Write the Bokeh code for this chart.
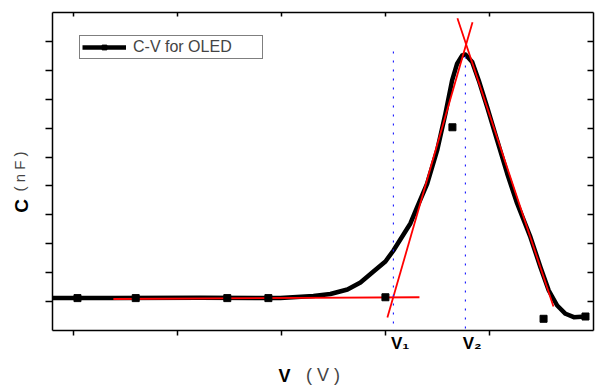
from bokeh.plotting import figure
from bokeh.models import LinearAxis, FixedTicker, Range1d, CustomJSTickFormatter
from bokeh.embed import file_html
from bokeh.resources import INLINE

# ---- data ----
curve_v = [0.798, 1.385, 2.221, 2.990, 3.308, 3.471, 3.635, 3.760, 3.885, 4.000,
           4.077, 4.240, 4.305, 4.401, 4.497, 4.577, 4.641, 4.689, 4.738, 4.769,
           4.834, 4.897, 4.978, 5.074, 5.170, 5.266, 5.394, 5.490, 5.570, 5.651,
           5.731, 5.811, 5.923]
curve_c = [1.125, 1.125, 1.131, 1.121, 1.194, 1.263, 1.419, 1.661, 2.042, 2.388,
           2.768, 3.702, 4.266, 5.076, 6.228, 7.509, 8.651, 9.228, 9.516, 9.550,
           9.284, 8.651, 7.727, 6.574, 5.433, 4.394, 3.228, 2.190, 1.384, 0.865,
           0.578, 0.460, 0.484]

point_v = [1.04, 1.60, 2.48, 2.875, 4.00, 4.644, 5.52, 5.923]
point_c = [1.12, 1.12, 1.12, 1.12, 1.15, 7.03, 0.405, 0.484]

base_v = [1.385, 4.327]
base_c = [1.09, 1.15]
rise_v = [4.019, 4.837]
rise_c = [0.45, 10.66]
fall_v = [4.692, 5.615]
fall_c = [10.80, 0.83]

v1 = 4.077
v2 = 4.769
v1_span = [0.24, 9.76]
v2_span = [0.07, 9.58]

x_ticks = [1, 2, 3, 4, 5]
y_ticks = [1, 2, 3, 4, 5, 6, 7, 8, 9, 10]

v_labels = ["V\u2081", "V\u2082"]
x_title_bold = "V"
x_title_unit = "( V )"
y_title_bold = "C"
y_title_unit = "( n F )"

FONT = "Liberation Sans"

p = figure(width=596, height=389, output_backend="svg", toolbar_location=None,
           x_range=Range1d(0.8, 6.0), y_range=Range1d(0, 11),
           min_border_left=52, min_border_right=3, min_border_top=12,
           min_border_bottom=59)
p.background_fill_color = "white"
p.border_fill_color = "white"
p.outline_line_color = None
p.grid.visible = False

empty_fmt = CustomJSTickFormatter(code="return ''")

bottom = p.xaxis[0]
left = p.yaxis[0]
bottom.ticker = FixedTicker(ticks=x_ticks)
left.ticker = FixedTicker(ticks=y_ticks)
top = LinearAxis(ticker=FixedTicker(ticks=x_ticks))
right = LinearAxis(ticker=FixedTicker(ticks=y_ticks))
p.add_layout(top, "above")
p.add_layout(right, "right")

for ax, tin, tout in [(bottom, 0, 5), (left, 0, 7), (top, 4, 0), (right, 6, 0)]:
    ax.major_tick_in = tin
    ax.major_tick_out = tout
    ax.minor_tick_line_color = None
    ax.axis_line_width = 1.5
    ax.major_tick_line_width = 1.5
    ax.axis_line_color = "black"
    ax.major_tick_line_color = "black"
    ax.formatter = empty_fmt
    ax.major_label_text_font_size = "1px"
    ax.major_label_standoff = 0


def text_axis(ticks, labels, size, bold, standoff):
    ax = LinearAxis(ticker=FixedTicker(ticks=ticks),
                    major_label_overrides=dict(zip(ticks, labels)))
    ax.axis_line_color = None
    ax.major_tick_line_color = None
    ax.minor_tick_line_color = None
    ax.major_tick_in = 0
    ax.major_tick_out = 0
    ax.major_label_standoff = standoff
    ax.major_label_text_font = FONT
    ax.major_label_text_font_size = size
    ax.major_label_text_font_style = "bold" if bold else "normal"
    ax.major_label_text_color = "black"
    return ax

# V1 / V2 labels under the dotted lines (centred a little right of each line)
shift = 0.065
vax = text_axis([v1 + shift, v2 + shift], v_labels, "17px", True, -2)
p.add_layout(vax, "below")

# x title: bold "V" as a label, "( V )" as the axis title pulled into the same row
xt_pos = 3.03
xax = text_axis([xt_pos], [x_title_bold], "18px", True, 10)
xax.axis_label = x_title_unit
xax.axis_label_text_font = FONT
xax.axis_label_text_font_size = "18px"
xax.axis_label_text_font_style = "normal"
xax.axis_label_standoff = -24
p.add_layout(xax, "below")

# y title: bold "C" as a label, "( n F )" as the axis title in the same column
yt_pos = 4.31
yax = text_axis([yt_pos], [y_title_bold], "19px", True, 13)
yax.major_label_orientation = "vertical"
yax.axis_label = y_title_unit
yax.axis_label_text_font = FONT
yax.axis_label_text_font_size = "15px"
yax.axis_label_text_font_style = "normal"
yax.axis_label_standoff = -19
p.add_layout(yax, "left")

# curve
p.line(curve_v, curve_c, line_color="black", line_width=4.5, line_join="round",
       legend_label="C-V for OLED")

# red tangent lines
p.line(base_v, base_c, line_color="#ff0000", line_width=1.8)
p.line(rise_v, rise_c, line_color="#ff0000", line_width=1.8)
p.line(fall_v, fall_c, line_color="#ff0000", line_width=1.8)

# blue dotted lines
p.line([v1, v1], v1_span, line_color="#2020ff", line_width=1.2, line_dash="2 7")
p.line([v2, v2], v2_span, line_color="#2020ff", line_width=1.2, line_dash="2 7")

# markers
p.scatter(point_v, point_c, marker="square", size=7, color="black",
          legend_label="C-V for OLED")

leg = p.legend[0]
leg.location = (27, 271)
leg.margin = 0
leg.padding = 2
leg.spacing = 0
leg.glyph_width = 44
leg.glyph_height = 12
leg.label_height = 12
leg.label_width = 127
leg.label_standoff = 7
leg.label_text_font = FONT
leg.label_text_font_size = "16px"
leg.border_line_color = "black"
leg.border_line_width = 1
leg.background_fill_alpha = 1

open("out.html", "w").write(file_html(p, INLINE))
